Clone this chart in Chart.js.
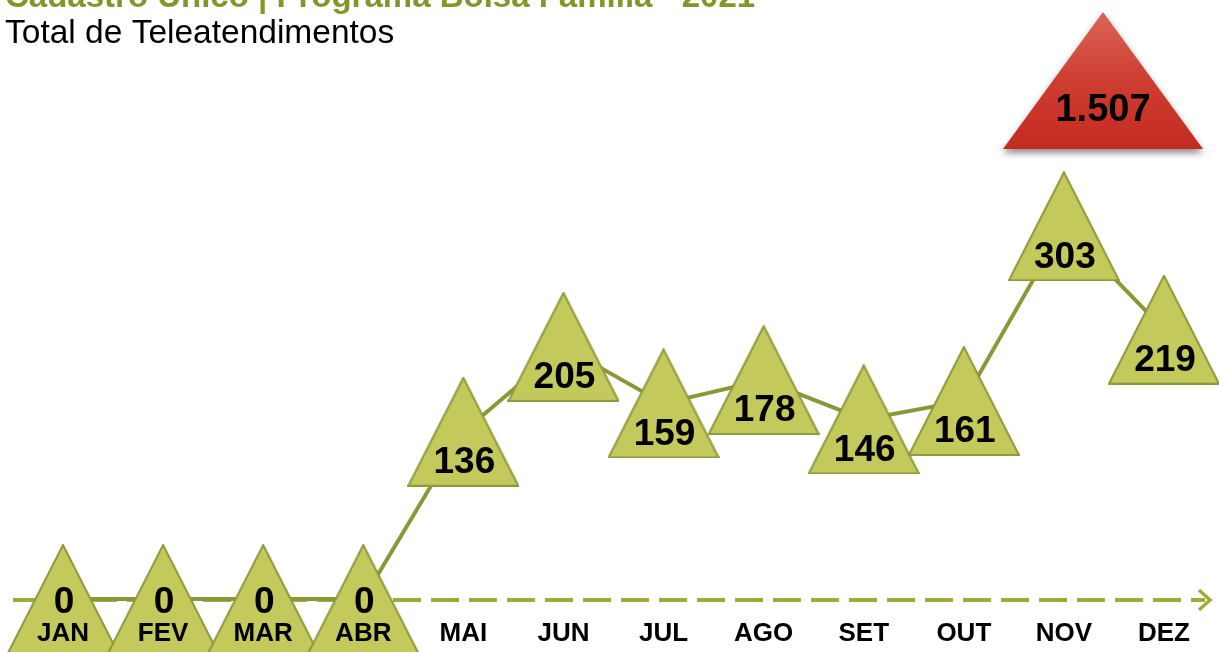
<!DOCTYPE html>
<html>
<head>
<meta charset="utf-8">
<script src="https://cdn.jsdelivr.net/npm/chart.js@4.4.1/dist/chart.umd.min.js"></script>
<style>
  html, body { margin: 0; padding: 0; background: #ffffff; overflow: hidden; }
  #wrap { width: 1219px; height: 652px; position: relative; }
</style>
</head>
<body>
<div id="wrap"><canvas id="c" width="1219" height="652"></canvas></div>
<script>
// ---- data ----
const titleText = 'Cadastro Único | Programa Bolsa Família - 2021';
const subtitleText = 'Total de Teleatendimentos';
const months = ['JAN', 'FEV', 'MAR', 'ABR', 'MAI', 'JUN', 'JUL', 'AGO', 'SET', 'OUT', 'NOV', 'DEZ'];
const teleatendimentos = [0, 0, 0, 0, 136, 205, 159, 178, 146, 161, 303, 219];
const total = teleatendimentos.reduce((a, b) => a + b, 0);

// ---- styles ----
const FONT = 'Arial, "Liberation Sans", sans-serif';
const OLIVE = '#8c9838';
const OLIVE_TITLE = '#86952b';
const TRI_FILL = '#c3c95b';
const TRI_STROKE = '#8e9a3c';
const DASH_COLOR = '#a0ab3a';

// triangle marker image (used as the point style)
function makeTriangle(w, h) {
  const c = document.createElement('canvas');
  c.width = w + 2; c.height = h + 2;
  const g = c.getContext('2d');
  g.beginPath();
  g.moveTo(1, h + 1);
  g.lineTo(w / 2 + 1, 1);
  g.lineTo(w + 1, h + 1);
  g.closePath();
  g.fillStyle = TRI_FILL;
  g.fill();
  g.lineWidth = 2;
  g.strokeStyle = TRI_STROKE;
  g.stroke();
  return c;
}
const triImg = makeTriangle(110, 108);

const headerPlugin = {
  id: 'header',
  beforeDraw(chart) {
    const ctx = chart.ctx;
    ctx.save();
    ctx.textAlign = 'left';
    ctx.textBaseline = 'alphabetic';
    ctx.fillStyle = OLIVE_TITLE;
    ctx.font = 'bold 33px ' + FONT;
    ctx.fillText(titleText, 5, 7);
    ctx.fillStyle = '#000000';
    ctx.font = '33.5px ' + FONT;
    ctx.fillText(subtitleText, 5, 43);
    ctx.restore();
  }
};

const axisArrowPlugin = {
  id: 'axisArrow',
  beforeDatasetsDraw(chart) {
    const ctx = chart.ctx;
    const y = chart.scales.y.getPixelForValue(0) + 1;
    ctx.save();
    ctx.strokeStyle = DASH_COLOR;
    ctx.lineWidth = 4;
    ctx.setLineDash([28, 10]);
    ctx.beginPath();
    ctx.moveTo(13, y);
    ctx.lineTo(1205, y);
    ctx.stroke();
    ctx.setLineDash([]);
    ctx.lineWidth = 3.5;
    ctx.beginPath();
    ctx.moveTo(1199, y - 10);
    ctx.lineTo(1210, y);
    ctx.lineTo(1199, y + 10);
    ctx.stroke();
    ctx.restore();
  }
};

const valueLabelPlugin = {
  id: 'valueLabels',
  afterDatasetsDraw(chart) {
    const ctx = chart.ctx;
    const meta = chart.getDatasetMeta(0);
    ctx.save();
    ctx.fillStyle = '#000000';
    ctx.font = 'bold 37px ' + FONT;
    ctx.textAlign = 'center';
    ctx.textBaseline = 'middle';
    meta.data.forEach((pt, i) => {
      const v = teleatendimentos[i];
      const dy = v === 0 ? 4 : 31;
      ctx.fillText(String(v), pt.x + 1, pt.y + dy);
    });
    ctx.restore();
  }
};

const totalPlugin = {
  id: 'totalBadge',
  afterDraw(chart) {
    const ctx = chart.ctx;
    const cx = 1103, top = 12, bottom = 149, half = 100;
    ctx.save();
    ctx.shadowColor = 'rgba(0,0,0,0.45)';
    ctx.shadowBlur = 7;
    ctx.shadowOffsetY = 4;
    const grad = ctx.createLinearGradient(0, top, 0, bottom);
    grad.addColorStop(0, '#d9655a');
    grad.addColorStop(0.5, '#cf3d31');
    grad.addColorStop(1, '#c42b20');
    ctx.beginPath();
    ctx.moveTo(cx - half, bottom);
    ctx.lineTo(cx, top);
    ctx.lineTo(cx + half, bottom);
    ctx.closePath();
    ctx.fillStyle = grad;
    ctx.fill();
    ctx.restore();
    ctx.save();
    ctx.fillStyle = '#000000';
    ctx.font = 'bold 38px ' + FONT;
    ctx.textAlign = 'center';
    ctx.textBaseline = 'middle';
    ctx.fillText(total.toLocaleString('pt-BR'), cx, 111);
    ctx.restore();
  }
};

new Chart(document.getElementById('c'), {
  type: 'line',
  data: {
    labels: months,
    datasets: [{
      data: teleatendimentos,
      borderColor: OLIVE,
      borderWidth: 4,
      tension: 0,
      pointStyle: triImg,
      pointRadius: 5,
      clip: false
    }]
  },
  options: {
    responsive: false,
    devicePixelRatio: 1,
    animation: false,
    events: [],
    layout: { padding: { top: 107, bottom: 3, left: 63, right: 55 } },
    plugins: {
      legend: { display: false },
      title: { display: false },
      tooltip: { enabled: false }
    },
    scales: {
      x: {
        offset: false,
        grid: { display: false, drawTicks: false },
        border: { display: false },
        afterFit(scale) { scale.height = 50; },
        ticks: {
          z: 1,
          padding: 19,
          maxRotation: 0,
          autoSkip: false,
          color: '#000000',
          font: { family: FONT, size: 26, weight: 'bold', lineHeight: 1.2 }
        }
      },
      y: {
        display: false,
        min: 0,
        max: 400
      }
    }
  },
  plugins: [headerPlugin, axisArrowPlugin, valueLabelPlugin, totalPlugin]
});
</script>
</body>
</html>
